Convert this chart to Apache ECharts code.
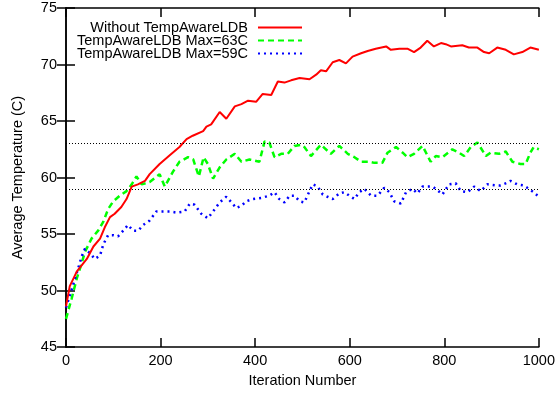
<!DOCTYPE html>
<html>
<head>
<meta charset="utf-8">
<script src="https://cdn.jsdelivr.net/npm/echarts@6/dist/echarts.min.js"></script>
<style>
  html, body { margin: 0; padding: 0; background: #fff; }
  #chart { width: 558px; height: 393px; }
</style>
</head>
<body>
<div id="chart"></div>
<script>
// [iteration, average temperature]
const withoutLdb = [[0,48.6],[8,50.4],[23,51.7],[44,52.8],[58,53.9],[72,54.6],[82,55.6],[93,56.5],[103,56.8],[117,57.4],[128,58.1],[139,59.2],[152,59.4],[167,59.7],[177,60.3],[198,61.2],[220,62.0],[240,62.7],[255,63.4],[268,63.7],[290,64.1],[297,64.5],[307,64.7],[325,65.8],[339,65.2],[357,66.3],[371,66.5],[385,66.8],[402,66.7],[416,67.4],[434,67.3],[448,68.5],[462,68.4],[476,68.6],[494,68.8],[515,68.7],[529,69.1],[539,69.5],[550,69.4],[564,70.2],[578,70.4],[592,70.1],[606,70.7],[624,71.0],[638,71.2],[655,71.4],[677,71.6],[687,71.3],[705,71.4],[722,71.4],[736,71.1],[750,71.5],[764,72.1],[778,71.6],[793,71.9],[803,71.8],[814,71.6],[838,71.7],[852,71.5],[870,71.5],[884,71.1],[895,71.0],[912,71.5],[930,71.3],[947,70.9],[965,71.1],[982,71.5],[1000,71.3]];

const max63 = [[0,47.5],[12,49.3],[23,51.1],[30,52.0],[40,53.4],[54,54.6],[68,55.3],[79,56.1],[89,57.2],[100,57.9],[114,58.4],[128,58.8],[139,59.4],[149,60.1],[160,59.4],[177,59.6],[198,60.3],[209,59.2],[226,60.5],[240,61.4],[258,61.8],[269,61.6],[281,60.1],[291,61.8],[300,61.2],[311,59.9],[325,60.9],[339,61.6],[357,62.1],[371,61.4],[388,61.6],[409,61.4],[420,63.2],[430,63.1],[441,61.8],[455,62.1],[469,62.1],[483,62.8],[497,62.9],[504,62.7],[518,61.9],[539,62.9],[560,62.1],[578,62.8],[596,62.1],[610,61.8],[624,61.4],[641,61.4],[652,61.3],[669,61.3],[680,62.2],[698,62.7],[712,62.2],[722,61.8],[736,62.1],[754,62.8],[771,61.4],[782,61.9],[796,61.8],[817,62.5],[831,62.2],[842,61.9],[856,62.7],[870,63.1],[888,61.9],[898,62.2],[916,62.1],[930,62.3],[944,61.4],[961,61.2],[972,61.2],[982,62.2],[989,62.7],[1000,62.5]];

const max59 = [[0,48.5],[15,50.5],[26,52.0],[33,53.0],[40,53.7],[51,53.3],[61,52.8],[72,53.1],[79,54.1],[89,54.9],[100,54.9],[110,54.8],[121,55.3],[131,55.8],[142,55.3],[153,55.3],[163,55.8],[177,56.2],[191,57.0],[205,57.0],[219,57.0],[234,56.9],[251,57.0],[262,57.7],[272,57.6],[286,56.8],[300,56.4],[311,57.0],[325,57.8],[339,58.3],[350,57.8],[360,57.3],[371,57.5],[381,57.9],[395,58.1],[413,58.2],[430,58.4],[441,58.7],[451,58.1],[462,57.8],[473,58.4],[483,58.4],[494,57.9],[504,57.8],[515,58.8],[522,59.4],[532,59.2],[543,58.5],[553,58.3],[564,58.1],[578,58.6],[589,58.7],[599,58.4],[610,58.1],[620,58.7],[631,59.0],[645,58.4],[659,58.4],[673,59.1],[684,58.7],[694,57.9],[708,57.7],[719,58.7],[733,59.0],[743,58.6],[754,59.2],[775,59.2],[785,58.9],[796,58.5],[810,59.4],[824,59.5],[835,58.8],[849,58.7],[863,59.2],[877,58.8],[891,59.4],[909,59.3],[919,59.3],[931,59.5],[940,59.7],[954,59.4],[968,59.3],[979,59.0],[989,58.7],[1000,58.3]];

const limits = [63, 59];
const seriesNames = ['Without TempAwareLDB', 'TempAwareLDB Max=63C', 'TempAwareLDB Max=59C'];

const font = 'Liberation Sans, Arial, sans-serif';
const fs = 14.5;
const chart = echarts.init(document.getElementById('chart'));

const axisBase = {
  type: 'value',
  axisLine: { show: true, lineStyle: { color: '#000', width: 1.5 } },
  axisTick: { show: true, inside: true, length: 9, lineStyle: { color: '#000', width: 1.5 } },
  splitLine: { show: false }
};

chart.setOption({
  animation: false,
  textStyle: { fontFamily: font },
  grid: { left: 66, right: 18, top: 8, bottom: 44 },
  legend: {
    orient: 'vertical',
    right: 250,
    top: 15,
    align: 'right',
    itemWidth: 44,
    itemHeight: 10,
    itemGap: -2,
    itemStyle: { opacity: 0 },
    textStyle: { fontSize: fs, lineHeight: 14, color: '#000', fontFamily: font, padding: [0, 5, 0, 0] },
    data: seriesNames
  },
  xAxis: [
    Object.assign({}, axisBase, {
      min: 0, max: 1000, interval: 200,
      name: 'Iteration Number', nameLocation: 'middle', nameGap: 24,
      nameTextStyle: { fontSize: fs, color: '#000' },
      axisLabel: { fontSize: fs, color: '#000', margin: 6, formatter: v => String(v) }
    }),
    Object.assign({}, axisBase, {
      min: 0, max: 1000, interval: 200, position: 'top',
      axisLabel: { show: false }
    })
  ],
  yAxis: [
    Object.assign({}, axisBase, {
      min: 45, max: 75, interval: 5,
      name: 'Average Temperature (C)', nameLocation: 'middle', nameGap: 41,
      nameTextStyle: { fontSize: fs, color: '#000' },
      axisLabel: { fontSize: fs, color: '#000', margin: 9 }
    }),
    Object.assign({}, axisBase, {
      min: 45, max: 75, interval: 5, position: 'right',
      axisLabel: { show: false }
    })
  ],
  series: [
    {
      name: seriesNames[0], type: 'line', data: withoutLdb,
      symbol: 'none', color: '#ff0000',
      lineStyle: { color: '#ff0000', width: 2 },
      z: 3,
      markLine: {
        silent: true, symbol: 'none', label: { show: false },
        lineStyle: { color: '#000', type: [1, 2], width: 1 },
        data: limits.map(v => ({ yAxis: v }))
      }
    },
    {
      name: seriesNames[1], type: 'line', data: max63,
      symbol: 'none', color: '#00ff00',
      lineStyle: { color: '#00ff00', width: 2.5, type: [6, 4] },
      z: 2
    },
    {
      name: seriesNames[2], type: 'line', data: max59,
      symbol: 'none', color: '#0000ff',
      lineStyle: { color: '#0000ff', width: 2.5, type: [2, 4] },
      z: 2
    }
  ]
});
</script>
</body>
</html>
